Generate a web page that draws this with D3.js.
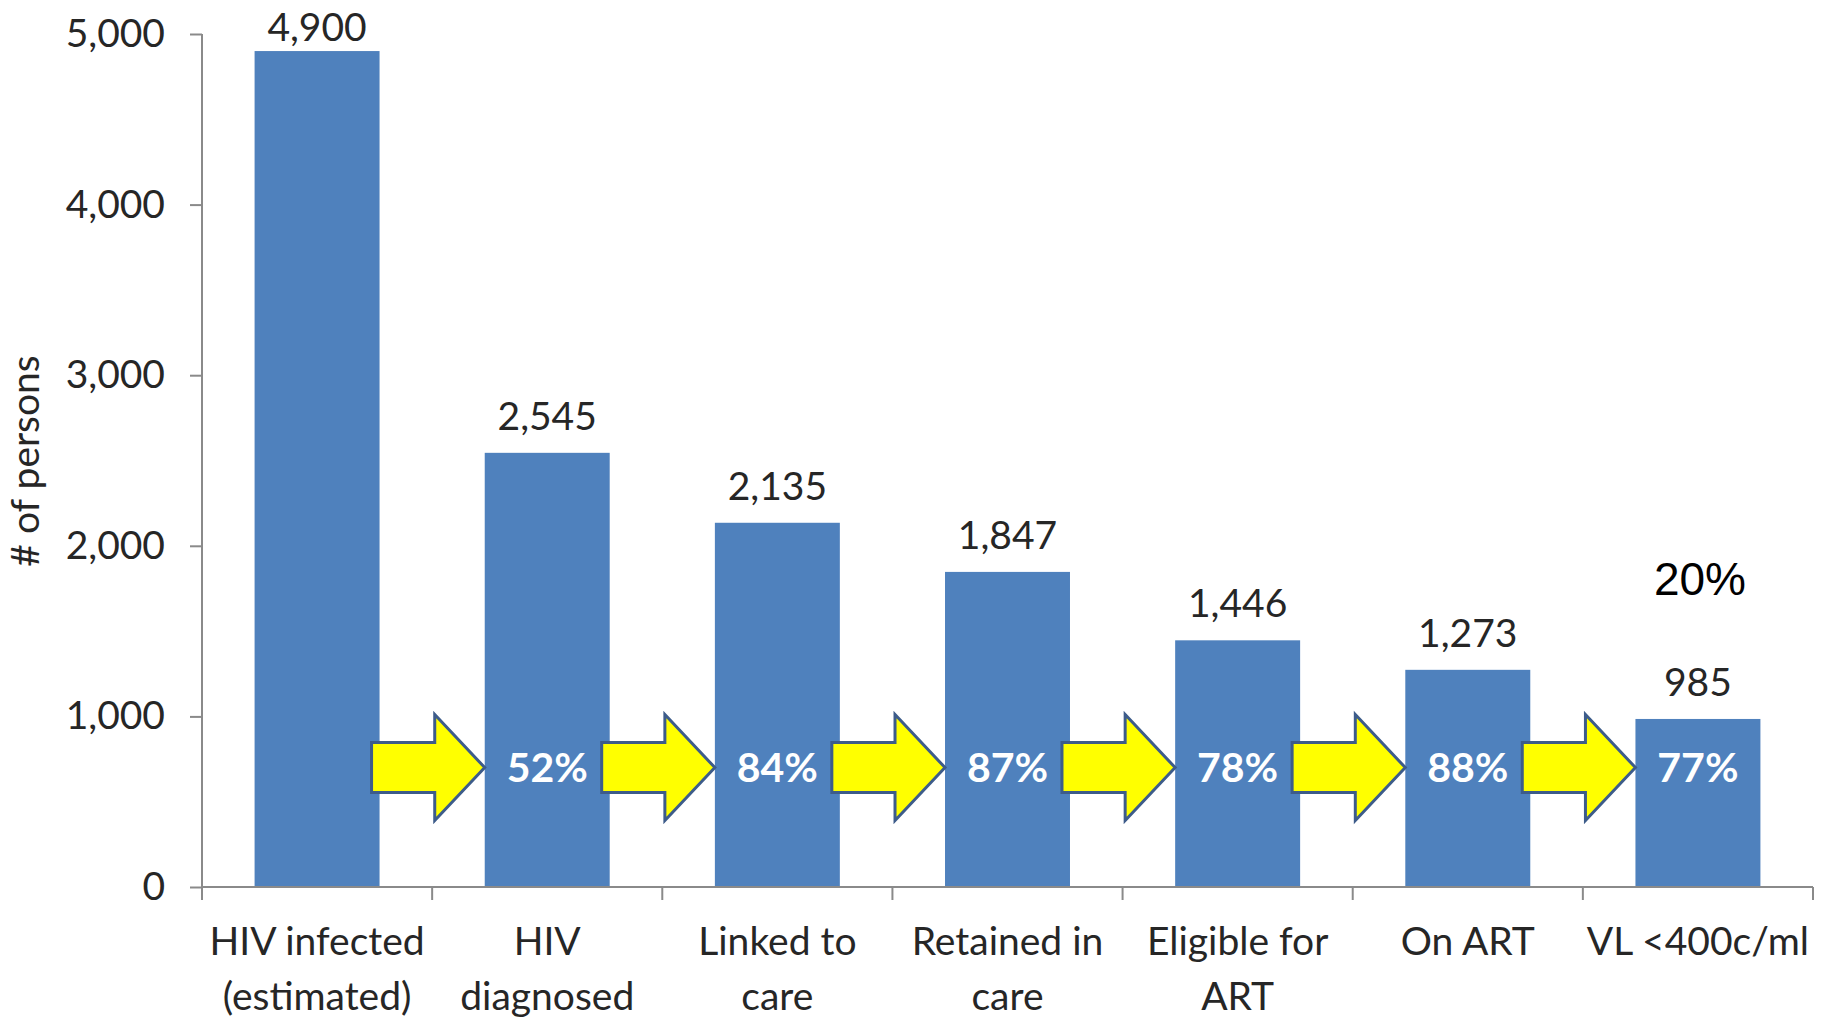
<!DOCTYPE html>
<html><head><meta charset="utf-8">
<script src="https://cdn.jsdelivr.net/npm/d3@7"></script>
<style>body{margin:0;background:#fff}svg{display:block}</style>
</head><body>
<svg id="chart" width="1824" height="1018"></svg>
<script>
// ---- data ----
const categories = [
  ["HIV infected", "(estimated)"],
  ["HIV", "diagnosed"],
  ["Linked to", "care"],
  ["Retained in", "care"],
  ["Eligible for", "ART"],
  ["On ART"],
  ["VL <400c/ml"]
];
const values = [4900, 2545, 2135, 1847, 1446, 1273, 985];
const stepPercents = ["52%", "84%", "87%", "78%", "88%", "77%"];
const yTicks = [0, 1000, 2000, 3000, 4000, 5000];
const yTitle = "# of persons";
const noteText = "20%";
const arrowLevel = 700; // vertical level (in persons) of the yellow arrows

// ---- layout ----
const svg = d3.select("#chart");
const font = "Lato, 'Open Sans', sans-serif";
const fs = 39;
const textColor = "#262626";
const axisColor = "#8a8a8a";

const x = d3.scaleBand().domain(d3.range(categories.length))
  .range([202, 1813]).paddingInner(0.457).paddingOuter(0.2285);
const y = d3.scaleLinear().domain([0, 5000]).range([887, 34]);
const bw = x.bandwidth();

// bars
svg.append("g").selectAll("rect").data(values).join("rect")
  .attr("x", (d, i) => x(i)).attr("y", d => y(d))
  .attr("width", bw).attr("height", d => y(0) - y(d))
  .attr("fill", "#4F81BD");

// arrows
const cy = y(arrowLevel);
const arrowPath = i => {
  const x0 = x(i) + bw - 8, tip = x(i + 1), hb = tip - 50;
  return `M${x0},${cy - 25}L${hb},${cy - 25}L${hb},${cy - 53}L${tip},${cy}L${hb},${cy + 53}L${hb},${cy + 25}L${x0},${cy + 25}Z`;
};
svg.append("g").selectAll("path").data(stepPercents).join("path")
  .attr("d", (d, i) => arrowPath(i))
  .attr("fill", "#FFFF00").attr("stroke", "#3d5c8a").attr("stroke-width", 3)
  .attr("stroke-linejoin", "miter");

// percent labels inside bars
svg.append("g").selectAll("text").data(stepPercents).join("text")
  .attr("x", (d, i) => x(i + 1) + bw / 2).attr("y", cy + 14)
  .attr("text-anchor", "middle").attr("fill", "#ffffff")
  .attr("font-family", font).attr("font-weight", "bold").attr("font-size", 41)
  .text(d => d);

// value labels
const fmt = d3.format(",");
svg.append("g").selectAll("text").data(values).join("text")
  .attr("x", (d, i) => x(i) + bw / 2)
  .attr("y", d => Math.max(y(d) - 23, 41))
  .attr("text-anchor", "middle").attr("fill", textColor)
  .attr("font-family", font).attr("font-size", fs)
  .text(d => fmt(d));

// y axis
const yAxis = svg.append("g").attr("transform", "translate(202,0)")
  .call(d3.axisLeft(y).tickValues(yTicks).tickFormat(fmt)
    .tickSizeInner(12).tickSizeOuter(0).tickPadding(25));
yAxis.select(".domain").attr("stroke", axisColor).attr("stroke-width", 2)
  .attr("d", `M0,${y(5000)}V${y(0) + 13}`);
yAxis.selectAll(".tick line").attr("stroke", axisColor).attr("stroke-width", 2);
yAxis.selectAll(".tick text").attr("fill", textColor)
  .attr("font-family", font).attr("font-size", fs);

// x axis
const xAxis = svg.append("g").attr("transform", `translate(0,${y(0)})`)
  .call(d3.axisBottom(x).tickSize(0).tickPadding(0).tickFormat(""));
xAxis.select(".domain").attr("stroke", axisColor).attr("stroke-width", 2)
  .attr("d", `M${x.range()[0]},0H${x.range()[1]}`);
xAxis.selectAll(".tick text").attr("fill", textColor)
  .attr("font-family", font).attr("font-size", fs)
  .attr("y", 0).attr("dy", null)
  .each(function(d) {
    const t = d3.select(this);
    categories[d].forEach((line, k) => {
      t.append("tspan").attr("x", 0).attr("y", 68 + k * 55).text(line);
    });
  });
// category boundary ticks
const bounds = d3.range(categories.length + 1).map(i => x.range()[0] + i * x.step());
xAxis.append("g").selectAll("line").data(bounds).join("line")
  .attr("x1", d => d).attr("x2", d => d).attr("y1", 0).attr("y2", 13)
  .attr("stroke", axisColor).attr("stroke-width", 2);

// y title
svg.append("text")
  .attr("transform", "translate(39,461) rotate(-90)")
  .attr("text-anchor", "middle").attr("fill", textColor)
  .attr("font-family", font).attr("font-size", fs)
  .text(yTitle);

// note
svg.append("text").attr("x", 1700).attr("y", 595)
  .attr("text-anchor", "middle").attr("fill", "#000")
  .attr("font-family", "'Liberation Sans', Arial, sans-serif").attr("font-size", 46)
  .text(noteText);
</script>
</body></html>
